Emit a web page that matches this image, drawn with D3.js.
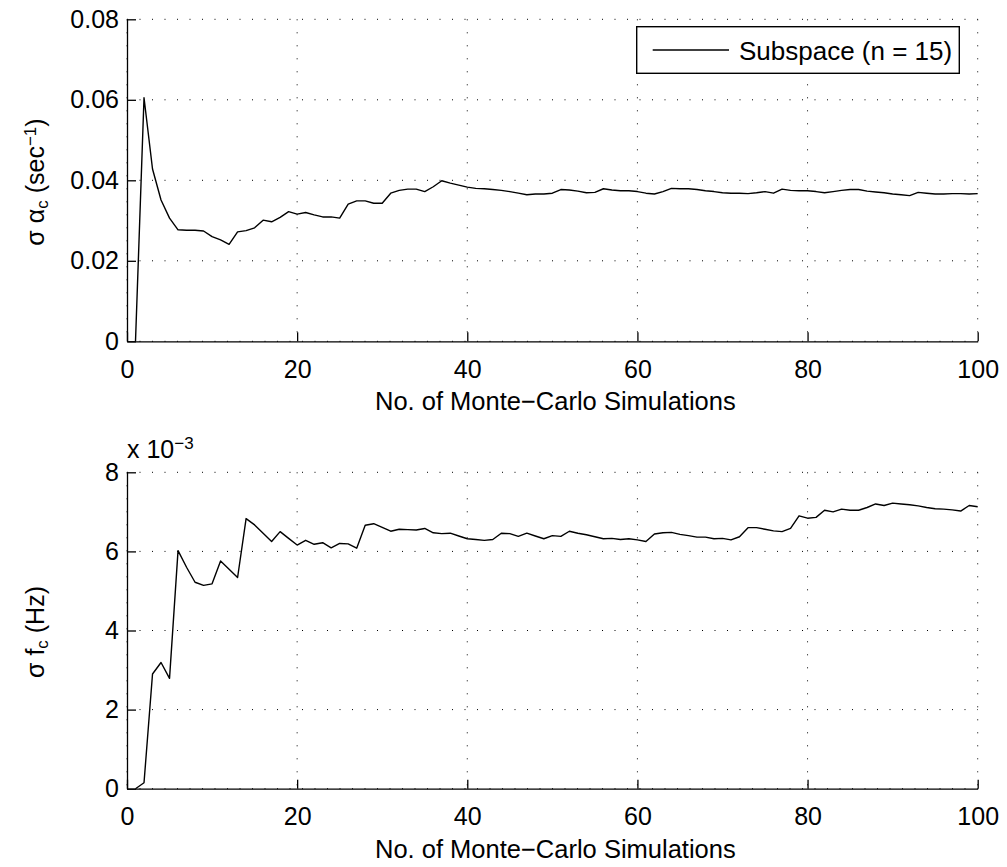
<!DOCTYPE html>
<html><head><meta charset="utf-8">
<script src="https://cdn.jsdelivr.net/npm/d3@7"></script>
<style>
body{margin:0;background:#fff;}
text{font-family:"Liberation Sans",Arial,Helvetica,sans-serif;fill:#000;}
</style></head><body>
<svg id="c" width="1007" height="867"></svg>
<script>
const runs = d3.range(1, 101);
const sigmaAlpha = [0,0.0605,0.0428,0.0351,0.0306,0.0277,0.0276,0.0276,0.0274,0.0260,
0.0252,0.0241,0.0272,0.0275,0.0282,0.0301,0.0297,0.0308,0.0322,0.0316,
0.0320,0.0314,0.0309,0.0309,0.0306,0.0341,0.0349,0.0349,0.0343,0.0343,
0.0368,0.0375,0.0378,0.0378,0.0372,0.0384,0.0399,0.0393,0.0388,0.0383,
0.0380,0.0379,0.0377,0.0375,0.0372,0.0368,0.0364,0.0366,0.0366,0.0368,
0.0377,0.0376,0.0373,0.0369,0.0370,0.0379,0.0376,0.0374,0.0374,0.0372,
0.0368,0.0366,0.0372,0.0380,0.0379,0.0379,0.0377,0.0374,0.0372,0.0369,
0.0368,0.0368,0.0367,0.0369,0.0372,0.0368,0.0378,0.0375,0.0374,0.0374,
0.0372,0.0369,0.0372,0.0375,0.0377,0.0377,0.0373,0.0371,0.0369,0.0366,
0.0364,0.0362,0.0370,0.0368,0.0366,0.0366,0.0367,0.0367,0.0366,0.0367];
// sigma f_c in units of 1e-3 Hz
const sigmaF = [0,0.15,2.9,3.19,2.79,6.02,5.6,5.22,5.14,5.18,
5.76,5.55,5.34,6.83,6.67,6.46,6.25,6.5,6.33,6.16,
6.28,6.18,6.22,6.09,6.2,6.19,6.08,6.66,6.7,6.61,
6.51,6.56,6.55,6.54,6.58,6.47,6.45,6.46,6.39,6.32,
6.3,6.28,6.3,6.46,6.45,6.38,6.46,6.39,6.32,6.4,
6.38,6.51,6.46,6.42,6.37,6.32,6.33,6.3,6.32,6.29,
6.25,6.44,6.47,6.48,6.43,6.4,6.36,6.36,6.32,6.33,
6.29,6.37,6.6,6.6,6.56,6.52,6.5,6.58,6.9,6.84,
6.86,7.04,7.0,7.07,7.04,7.04,7.11,7.2,7.16,7.22,
7.2,7.18,7.15,7.11,7.08,7.07,7.05,7.02,7.16,7.13];
const xTicks = [0,20,40,60,80,100];
const yTicksTop = [0,0.02,0.04,0.06,0.08];
const yTickLabelsTop = ["0","0.02","0.04","0.06","0.08"];
const yTicksBot = [0,2,4,6,8];
const xTitle = "No. of Monte\u2212Carlo Simulations";
const legendLabel = "Subspace (n = 15)";

const FS = "25px", FSS = "17px";
const svg = d3.select("#c");
const L = 127, R = 977.7;
const x = d3.scaleLinear().domain([0,100]).range([L,R]);

function panel(top, bottom, yDomain, yTicks, yFmt, values) {
  const y = d3.scaleLinear().domain(yDomain).range([bottom, top]);
  const g = svg.append("g");
  g.selectAll(".vg").data(xTicks).enter().append("line")
    .attr("x1", d=>x(d)).attr("x2", d=>x(d)).attr("y1", top).attr("y2", bottom)
    .attr("stroke","#000").attr("stroke-width",1).attr("stroke-dasharray","1,12");
  g.selectAll(".hg").data(yTicks).enter().append("line")
    .attr("x1", L).attr("x2", R).attr("y1", d=>y(d)).attr("y2", d=>y(d))
    .attr("stroke","#000").attr("stroke-width",1).attr("stroke-dasharray","1,11.5");
  const xa = g.append("g").attr("transform",`translate(0,${bottom})`)
    .call(d3.axisBottom(x).tickValues(xTicks).tickSizeInner(-9).tickSizeOuter(0).tickPadding(19));
  const ya = g.append("g").attr("transform",`translate(${L},0)`)
    .call(d3.axisLeft(y).tickValues(yTicks).tickFormat(yFmt).tickSizeInner(-9).tickSizeOuter(0).tickPadding(8));
  [xa, ya].forEach(a => {
    a.select(".domain").attr("stroke","#000").attr("stroke-width",1.3);
    a.selectAll(".tick line").attr("stroke","#000").attr("stroke-width",1.3);
    a.selectAll("text").style("font-size",FS).attr("fill","#000")
      .style("font-family",'"Liberation Sans",Arial,sans-serif');
  });
  const line = d3.line().x((d,i)=>x(runs[i])).y(d=>y(d));
  g.append("path").datum(values).attr("d", line)
    .attr("fill","none").attr("stroke","#000").attr("stroke-width",1.4)
    .attr("stroke-linejoin","round");
  return y;
}

panel(19.3, 341.3, [0,0.08], yTicksTop, (d,i)=>yTickLabelsTop[i], sigmaAlpha);
panel(472.3, 788.7, [0,8], yTicksBot, d3.format("d"), sigmaF);

[341.3 + 69, 788.7 + 69].forEach(yy => {
  svg.append("text").attr("x", (L+R)/2 + 3).attr("y", yy).attr("text-anchor","middle")
    .style("font-size","25.5px").text(xTitle);
});

const yt1 = svg.append("text").attr("transform","translate(44,182) rotate(-90)")
  .attr("text-anchor","middle").style("font-size",FS);
yt1.append("tspan").text("\u03c3 \u03b1");
yt1.append("tspan").attr("baseline-shift","-25%").style("font-size",FSS).text("c");
yt1.append("tspan").text(" (sec");
yt1.append("tspan").attr("baseline-shift","45%").style("font-size",FSS).text("\u22121");
yt1.append("tspan").text(")");

const yt2 = svg.append("text").attr("transform","translate(44,632) rotate(-90)")
  .attr("text-anchor","middle").style("font-size",FS);
yt2.append("tspan").text("\u03c3 f");
yt2.append("tspan").attr("baseline-shift","-25%").style("font-size",FSS).text("c");
yt2.append("tspan").text(" (Hz)");

const ex = svg.append("text").attr("x",127).attr("y",458).style("font-size",FS);
ex.append("tspan").text("x 10");
ex.append("tspan").attr("baseline-shift","55%").style("font-size",FSS).text("\u22123");

const lg = svg.append("g");
lg.append("rect").attr("x",636.7).attr("y",26.7).attr("width",322.6).attr("height",46.6)
  .attr("fill","#fff").attr("stroke","#000").attr("stroke-width",1.4);
lg.append("line").attr("x1",652.7).attr("x2",729).attr("y1",50).attr("y2",50)
  .attr("stroke","#000").attr("stroke-width",1.4);
lg.append("text").attr("x",739).attr("y",60).style("font-size","26px").text(legendLabel);
</script>
</body></html>
